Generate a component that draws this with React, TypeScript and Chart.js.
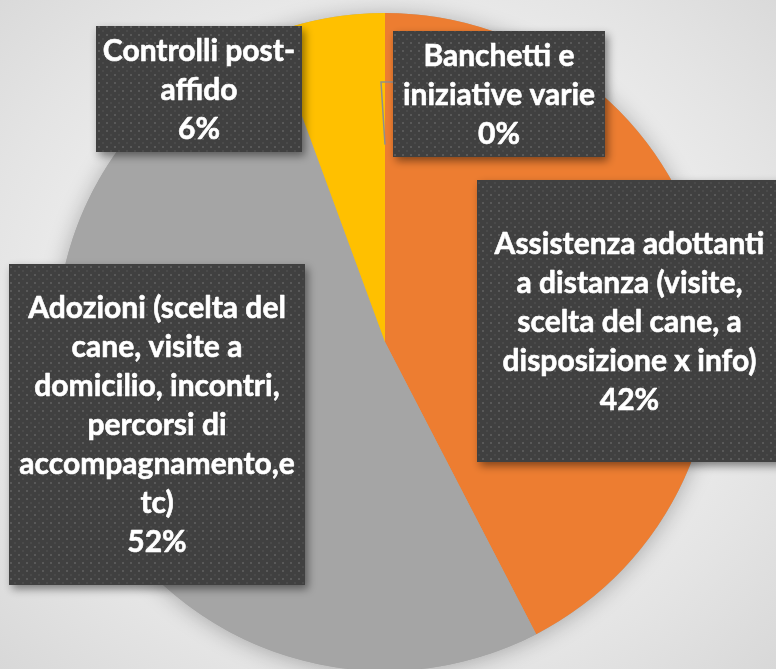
import React, { useEffect, useRef } from "react";
import { Chart, registerables } from "chart.js";

Chart.register(...registerables);

const CATEGORIES = [
  "Banchetti e iniziative varie",
  "Assistenza adottanti a distanza (visite, scelta del cane, a disposizione x info)",
  "Adozioni (scelta del cane, visite a domicilio, incontri, percorsi di accompagnamento,etc)",
  "Controlli post-affido",
];
const VALUES = [0, 42.4, 52.0, 5.6];
const COLORS = ["#4472C4", "#ED7D31", "#A5A5A5", "#FFC000"];

// wrapped label text as it appears in the data-label boxes
const LABEL_LINES = [
  ["Banchetti e", "iniziative varie"],
  ["Assistenza adottanti", "a distanza (visite,", "scelta del cane, a", "disposizione x info)"],
  ["Adozioni (scelta del", "cane, visite a", "domicilio, incontri,", "percorsi di", "accompagnamento,e", "tc)"],
  ["Controlli post-", "affido"],
];

// layout of the label boxes (styles, not data)
const BOXES = [
  { x: 393, y: 31, w: 212, h: 126 },
  { x: 477, y: 180, w: 305, h: 282 },
  { x: 9, y: 264, w: 296, h: 321 },
  { x: 96, y: 26, w: 206, h: 126 },
];

const FONT_SIZE = 30;
const LINE_H = 39;

function makePattern(ctx: CanvasRenderingContext2D) {
  const c = document.createElement("canvas");
  c.width = 8;
  c.height = 8;
  const p = c.getContext("2d")!;
  p.fillStyle = "#404040";
  p.fillRect(0, 0, 8, 8);
  p.fillStyle = "#595959";
  p.fillRect(2, 2, 2, 2);
  p.fillStyle = "#4a4a4a";
  p.fillRect(6, 6, 2, 2);
  return ctx.createPattern(c, "repeat")!;
}

const piePlugin = {
  id: "pieDecor",
  beforeDatasetsDraw(chart: any) {
    const meta = chart.getDatasetMeta(0);
    const arc = meta.data[0];
    if (!arc) return;
    const { x, y, outerRadius } = arc.getProps(["x", "y", "outerRadius"], true);
    const ctx = chart.ctx as CanvasRenderingContext2D;
    ctx.save();
    ctx.shadowColor = "rgba(0,0,0,0.28)";
    ctx.shadowBlur = 22;
    ctx.shadowOffsetX = 0;
    ctx.shadowOffsetY = 2;
    ctx.fillStyle = "#A5A5A5";
    ctx.beginPath();
    ctx.arc(x, y, outerRadius, 0, Math.PI * 2);
    ctx.fill();
    ctx.restore();
  },
  afterDatasetsDraw(chart: any) {
    const ctx = chart.ctx as CanvasRenderingContext2D;
    const meta = chart.getDatasetMeta(0);
    const data = chart.data.datasets[0].data as number[];
    const total = data.reduce((a, b) => a + b, 0);
    const pattern = makePattern(ctx);

    // leader line for the zero slice
    const a0 = meta.data[0];
    if (a0) {
      const p = a0.getProps(["x", "y", "startAngle", "endAngle", "outerRadius"], true);
      const mid = (p.startAngle + p.endAngle) / 2;
      const sx = p.x + Math.cos(mid) * p.outerRadius * 0.6;
      const sy = p.y + Math.sin(mid) * p.outerRadius * 0.6;
      const b = BOXES[0];
      ctx.save();
      ctx.strokeStyle = "#8f8f8f";
      ctx.lineWidth = 1.5;
      ctx.beginPath();
      ctx.moveTo(sx, sy);
      ctx.lineTo(b.x - 12, b.y + 51);
      ctx.lineTo(b.x, b.y + 51);
      ctx.stroke();
      ctx.restore();
    }

    data.forEach((v, i) => {
      const b = BOXES[i];
      ctx.save();
      ctx.shadowColor = "rgba(0,0,0,0.45)";
      ctx.shadowBlur = 9;
      ctx.shadowOffsetX = 3;
      ctx.shadowOffsetY = 4;
      ctx.fillStyle = pattern;
      ctx.fillRect(b.x, b.y, b.w, b.h);
      ctx.restore();

      const lines = [...LABEL_LINES[i], Math.round((v / total) * 100) + "%"];
      ctx.save();
      ctx.fillStyle = "#ffffff";
      ctx.strokeStyle = "#ffffff";
      ctx.lineWidth = 0.6;
      ctx.lineJoin = "round";
      ctx.font = `bold ${FONT_SIZE}px Lato, "Open Sans", sans-serif`;
      ctx.textAlign = "center";
      ctx.textBaseline = "middle";
      const cx = b.x + b.w / 2;
      const cy = b.y + b.h / 2;
      const start = cy - ((lines.length - 1) * LINE_H) / 2;
      lines.forEach((t, k) => {
        ctx.fillText(t, cx, start + k * LINE_H + 1);
        ctx.strokeText(t, cx, start + k * LINE_H + 1);
      });
      ctx.restore();
    });
  },
};

export default function App() {
  const ref = useRef<HTMLCanvasElement>(null);
  useEffect(() => {
    if (!ref.current) return;
    const chart = new Chart(ref.current, {
      type: "pie",
      data: {
        labels: CATEGORIES,
        datasets: [
          {
            data: VALUES,
            backgroundColor: COLORS,
            borderWidth: 0,
          },
        ],
      },
      options: {
        responsive: false,
        maintainAspectRatio: false,
        devicePixelRatio: 1,
        animation: false,
        layout: { padding: { left: 56, right: 62, top: 13, bottom: 29 } },
        plugins: {
          legend: { display: false },
          tooltip: { enabled: false },
        },
      },
      plugins: [piePlugin],
    });
    return () => chart.destroy();
  }, []);

  return (
    <div
      style={{
        position: "fixed",
        left: 0,
        top: 0,
        width: 776,
        height: 669,
        overflow: "hidden",
        background:
          "radial-gradient(ellipse at 50% 48%, #f6f6f6 0%, #f1f1f1 45%, #e4e4e4 75%, #d8d8d8 100%)",
      }}
    >
      <canvas ref={ref} width={776} height={700} style={{ display: "block", width: 776, height: 700 }} />
    </div>
  );
}
